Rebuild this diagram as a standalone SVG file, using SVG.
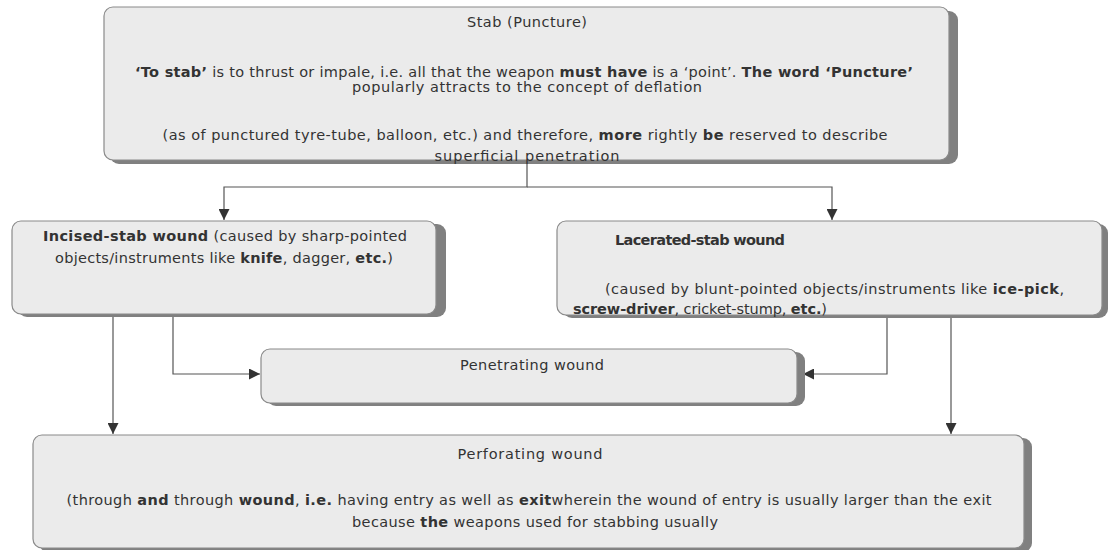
<svg xmlns="http://www.w3.org/2000/svg" width="1110" height="550" viewBox="0 0 1110 550">
<style>
.box{fill:#ebebeb;stroke:#8a8a8a;stroke-width:1.2}
.sh{fill:#808080}
.t{font-family:"DejaVu Sans",Verdana,sans-serif;font-size:14.5px;fill:#333}
.c{text-anchor:middle}
.b{font-weight:bold}
.ln{fill:none;stroke:#555;stroke-width:1.2}
</style>
<defs>
<marker id="ah" markerUnits="userSpaceOnUse" markerWidth="13" markerHeight="11" refX="11" refY="5.5" orient="auto">
<path d="M0,0 L11,5.5 L0,11 z" fill="#333"/>
</marker>
</defs>
<rect width="1110" height="550" fill="#fff"/>

<g id="connectors">
<path class="ln" d="M527,163 V187 H224 V220" marker-end="url(#ah)"/>
<path class="ln" d="M527,187 H832 V220" marker-end="url(#ah)"/>
<path class="ln" d="M113,316 V434" marker-end="url(#ah)"/>
<path class="ln" d="M173,316 V374 H260" marker-end="url(#ah)"/>
<path class="ln" d="M887,317 V374 H803" marker-end="url(#ah)"/>
<path class="ln" d="M951,317 V434" marker-end="url(#ah)"/>
</g>

<g id="stab">
<rect class="sh" x="110" y="11" width="848" height="153" rx="9"/>
<rect class="box" x="104" y="7" width="845" height="153" rx="9"/>
<text class="t c" x="527" y="27" textLength="120">Stab (Puncture)</text>
<text class="t c" x="524" y="77" textLength="778"><tspan class="b">‘To stab’</tspan> is to thrust or impale, i.e. all that the weapon <tspan class="b">must have</tspan> is a ‘point’. <tspan class="b">The word ‘Puncture’</tspan></text>
<text class="t c" x="527" y="92" textLength="350">popularly attracts to the concept of deflation</text>
<text class="t c" x="525" y="140" textLength="725">(as of punctured tyre-tube, balloon, etc.) and therefore, <tspan class="b">more</tspan> rightly <tspan class="b">be</tspan> reserved to describe</text>
<text class="t c" x="527" y="161" textLength="185">superficial penetration</text>
</g>

<g id="incised">
<rect class="sh" x="18" y="224" width="428" height="93" rx="9"/>
<rect class="box" x="12" y="221" width="424" height="93" rx="9"/>
<text class="t c" x="225" y="241" textLength="364"><tspan class="b">Incised-stab wound</tspan> (caused by sharp-pointed</text>
<text class="t c" x="224" y="263" textLength="338">objects/instruments like <tspan class="b">knife</tspan>, dagger, <tspan class="b">etc.</tspan>)</text>
</g>

<g id="lacerated">
<rect class="sh" x="563" y="224" width="545" height="94" rx="9"/>
<rect class="box" x="557" y="221" width="545" height="94" rx="9"/>
<text class="t b" x="615" y="245" textLength="170">Lacerated-stab wound</text>
<text class="t" x="605" y="294" textLength="459">(caused by blunt-pointed objects/instruments like <tspan class="b">ice-pick</tspan>,</text>
<text class="t" x="573" y="314" textLength="254"><tspan class="b">screw-driver</tspan>, cricket-stump, <tspan class="b">etc.</tspan>)</text>
</g>

<g id="penetrating">
<rect class="sh" x="267" y="352" width="538" height="54" rx="9"/>
<rect class="box" x="261" y="349" width="536" height="54" rx="9"/>
<text class="t c" x="532" y="370" textLength="144">Penetrating wound</text>
</g>

<g id="perforating">
<rect class="sh" x="39" y="438" width="993" height="114" rx="9"/>
<rect class="box" x="33" y="435" width="991" height="113" rx="9"/>
<text class="t c" x="530" y="459" textLength="145">Perforating wound</text>
<text class="t c" x="529" y="505" textLength="925">(through <tspan class="b">and</tspan> through <tspan class="b">wound</tspan>, <tspan class="b">i.e.</tspan> having entry as well as <tspan class="b">exit</tspan>wherein the wound of entry is usually larger than the exit</text>
<text class="t c" x="535" y="527" textLength="366">because <tspan class="b">the</tspan> weapons used for stabbing usually</text>
</g>
</svg>
